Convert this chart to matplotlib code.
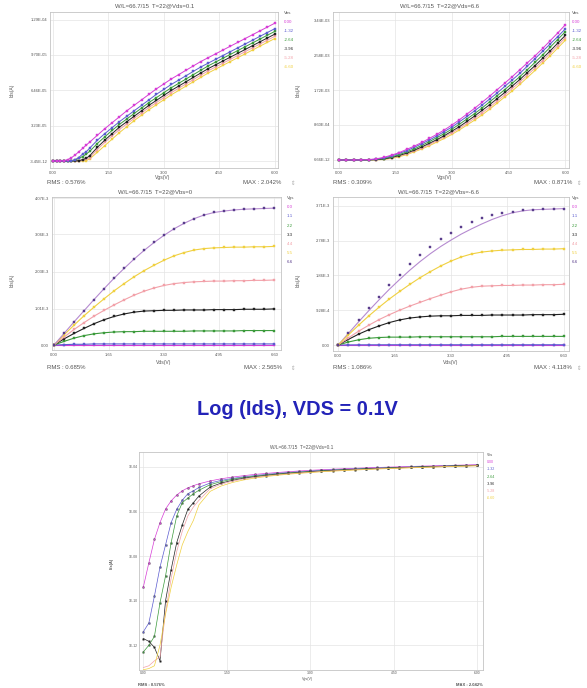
import matplotlib.pyplot as plt
from matplotlib.ticker import NullLocator

plt.rcParams["font.family"] = ["Liberation Sans", "DejaVu Sans"]

W, H = 587, 688

# ---- Ids-Vgs @ Vds=0.1 (linear panel + log panel share these) ----
vgs_a = [0.0, 0.1, 0.2, 0.3, 0.4, 0.5, 0.6, 0.7, 0.8, 0.9, 1.0,
         1.2, 1.4, 1.6, 1.8, 2.0, 2.2, 2.4, 2.6, 2.8, 3.0, 3.2, 3.4,
         3.6, 3.8, 4.0, 4.2, 4.4, 4.6, 4.8, 5.0, 5.2, 5.4, 5.6, 5.8, 6.0]
vbs_labels = ["0.00", "-1.32", "-2.64", "-3.96", "-5.28", "-6.60"]
lin_vbs0 = [4.0e-10, 5.0e-9, 5.6e-8, 3.2e-7, 1.3e-6, 3.0e-6, 5.5e-6, 8.5e-6, 1.15e-5, 1.45e-5, 1.75e-5,
            2.35e-5, 2.95e-5, 3.5e-5, 4.05e-5, 4.6e-5, 5.1e-5, 5.6e-5, 6.1e-5, 6.6e-5, 7.05e-5, 7.5e-5, 7.9e-5,
            8.3e-5, 8.7e-5, 9.1e-5, 9.45e-5, 9.8e-5, 1.015e-4, 1.05e-4, 1.085e-4, 1.12e-4, 1.155e-4, 1.19e-4, 1.225e-4, 1.26e-4]
lin_vbs1 = [4e-12, 1e-11, 1.6e-10, 3.2e-9, 3.2e-8, 3.2e-7, 1.26e-6, 3.2e-6, 6.3e-6, 8.5e-6, 1.2e-5,
            1.9e-5, 2.5e-5, 3.05e-5, 3.6e-5, 4.1e-5, 4.6e-5, 5.1e-5, 5.6e-5, 6.1e-5, 6.55e-5, 7.0e-5, 7.4e-5,
            7.8e-5, 8.2e-5, 8.6e-5, 8.95e-5, 9.3e-5, 9.65e-5, 1.0e-4, 1.035e-4, 1.07e-4, 1.105e-4, 1.14e-4, 1.175e-4, 1.21e-4]
lin_vbs2 = [5e-13, 1e-12, 2.5e-12, 8e-11, 1.3e-9, 4e-8, 6.3e-7, 2.5e-6, 4.0e-6, 6.3e-6, 9.0e-6,
            1.6e-5, 2.2e-5, 2.8e-5, 3.35e-5, 3.85e-5, 4.35e-5, 4.85e-5, 5.35e-5, 5.8e-5, 6.25e-5, 6.7e-5, 7.1e-5,
            7.5e-5, 7.9e-5, 8.3e-5, 8.7e-5, 9.05e-5, 9.4e-5, 9.75e-5, 1.01e-4, 1.045e-4, 1.08e-4, 1.115e-4, 1.15e-4, 1.185e-4]
lin_vbs3 = [2e-12, 1.5e-12, 8e-13, 2e-13, 1e-10, 2.5e-9, 4e-8, 2.5e-7, 1.26e-6, 2.5e-6, 5.0e-6,
            1.25e-5, 1.9e-5, 2.5e-5, 3.1e-5, 3.6e-5, 4.1e-5, 4.6e-5, 5.1e-5, 5.55e-5, 6.0e-5, 6.45e-5, 6.85e-5,
            7.25e-5, 7.65e-5, 8.05e-5, 8.45e-5, 8.8e-5, 9.15e-5, 9.5e-5, 9.85e-5, 1.02e-4, 1.055e-4, 1.09e-4, 1.125e-4, 1.16e-4]
lin_vbs4 = [1e-13, 1.2e-13, 2e-13, 3e-13, 3e-11, 1e-9, 1.6e-8, 1.3e-7, 6.3e-7, 1.6e-6, 3.2e-6,
            1.05e-5, 1.7e-5, 2.3e-5, 2.88e-5, 3.4e-5, 3.9e-5, 4.4e-5, 4.9e-5, 5.35e-5, 5.8e-5, 6.25e-5, 6.65e-5,
            7.05e-5, 7.45e-5, 7.85e-5, 8.25e-5, 8.6e-5, 8.95e-5, 9.3e-5, 9.65e-5, 1.0e-4, 1.035e-4, 1.07e-4, 1.105e-4, 1.14e-4]
lin_vbs5 = [8e-14, 9e-14, 1.2e-13, 1e-12, 2.5e-11, 4e-10, 4e-9, 3.2e-8, 1.26e-7, 4e-7, 2.0e-6,
            8.0e-6, 1.4e-5, 2.0e-5, 2.6e-5, 3.15e-5, 3.7e-5, 4.2e-5, 4.7e-5, 5.15e-5, 5.6e-5, 6.05e-5, 6.45e-5,
            6.85e-5, 7.25e-5, 7.65e-5, 8.05e-5, 8.4e-5, 8.75e-5, 9.1e-5, 9.45e-5, 9.8e-5, 1.015e-4, 1.05e-4, 1.085e-4, 1.12e-4]

# ---- Ids-Vgs @ Vds=6.6 (mA) ----
vgs_b = [0.0, 0.2, 0.4, 0.6, 0.8, 1.0, 1.2, 1.4, 1.6, 1.8, 2.0, 2.2, 2.4, 2.6, 2.8, 3.0,
         3.2, 3.4, 3.6, 3.8, 4.0, 4.2, 4.4, 4.6, 4.8, 5.0, 5.2, 5.4, 5.6, 5.8, 6.0]
sat_vbs0 = [0.0, 0.0, 0.0003, 0.002, 0.010, 0.030, 0.065, 0.12, 0.18, 0.26, 0.34, 0.43, 0.53, 0.63, 0.74, 0.86,
            0.99, 1.13, 1.27, 1.42, 1.57, 1.73, 1.89, 2.05, 2.22, 2.39, 2.56, 2.74, 2.93, 3.12, 3.32]
sat_vbs1 = [0.0, 0.0, 0.0001, 0.001, 0.006, 0.020, 0.050, 0.10, 0.16, 0.23, 0.31, 0.40, 0.49, 0.59, 0.70, 0.81,
            0.94, 1.07, 1.21, 1.35, 1.50, 1.65, 1.81, 1.97, 2.13, 2.31, 2.49, 2.67, 2.85, 3.03, 3.22]
sat_vbs2 = [0.0, 0.0, 0.0, 0.0005, 0.003, 0.012, 0.035, 0.075, 0.13, 0.20, 0.27, 0.36, 0.45, 0.55, 0.65, 0.76,
            0.88, 1.01, 1.14, 1.28, 1.43, 1.58, 1.73, 1.89, 2.05, 2.22, 2.40, 2.58, 2.77, 2.96, 3.15]
sat_vbs3 = [0.0, 0.0, 0.0, 0.0003, 0.002, 0.008, 0.025, 0.06, 0.11, 0.17, 0.24, 0.32, 0.41, 0.50, 0.60, 0.71,
            0.82, 0.95, 1.08, 1.22, 1.36, 1.51, 1.66, 1.82, 1.98, 2.15, 2.32, 2.50, 2.68, 2.87, 3.06]
sat_vbs4 = [0.0, 0.0, 0.0, 0.0002, 0.001, 0.005, 0.018, 0.048, 0.095, 0.15, 0.22, 0.29, 0.38, 0.47, 0.57, 0.67,
            0.78, 0.90, 1.03, 1.16, 1.30, 1.45, 1.60, 1.76, 1.92, 2.09, 2.26, 2.44, 2.62, 2.81, 3.00]
sat_vbs5 = [0.0, 0.0, 0.0, 0.0001, 0.0005, 0.003, 0.012, 0.038, 0.08, 0.13, 0.20, 0.27, 0.35, 0.44, 0.53, 0.63,
            0.74, 0.86, 0.98, 1.11, 1.25, 1.40, 1.55, 1.70, 1.86, 2.03, 2.20, 2.38, 2.56, 2.75, 2.94]

# ---- Ids-Vds (mA), Vbs=0 and Vbs=-6.6 ----
vds = [0.0, 0.3, 0.6, 0.9, 1.2, 1.5, 1.8, 2.1, 2.4, 2.7, 3.0, 3.3,
       3.6, 3.9, 4.2, 4.5, 4.8, 5.1, 5.4, 5.7, 6.0, 6.3, 6.6]
vgs_labels = ["0.0", "1.1", "2.2", "3.3", "4.4", "5.5", "6.6"]
out0_vgs00 = [0.0, 0.0, 0.0, 0.0, 0.0, 0.0, 0.0, 0.0, 0.0, 0.0, 0.0, 0.0,
              0.0, 0.0, 0.0, 0.0, 0.0, 0.0, 0.0, 0.0, 0.0, 0.0, 0.0]
out0_vgs11 = [0.0, 0.01, 0.02, 0.02, 0.03, 0.03, 0.03, 0.03, 0.03, 0.03, 0.03, 0.03,
              0.03, 0.03, 0.03, 0.03, 0.03, 0.03, 0.03, 0.03, 0.03, 0.03, 0.03]
out0_vgs22 = [0.0, 0.10, 0.19, 0.26, 0.31, 0.34, 0.36, 0.37, 0.37, 0.38, 0.38, 0.38,
              0.38, 0.38, 0.39, 0.39, 0.39, 0.39, 0.39, 0.40, 0.40, 0.40, 0.40]
out0_vgs33 = [0.0, 0.17, 0.32, 0.46, 0.59, 0.70, 0.79, 0.86, 0.91, 0.94, 0.95, 0.96,
              0.96, 0.97, 0.97, 0.97, 0.98, 0.98, 0.98, 0.99, 0.99, 0.99, 1.00]
out0_vgs44 = [0.0, 0.22, 0.43, 0.62, 0.80, 0.96, 1.11, 1.25, 1.38, 1.49, 1.58, 1.65,
              1.70, 1.73, 1.75, 1.76, 1.77, 1.77, 1.78, 1.78, 1.79, 1.79, 1.80]
out0_vgs55 = [0.0, 0.28, 0.55, 0.81, 1.05, 1.28, 1.50, 1.70, 1.89, 2.06, 2.21, 2.35,
              2.47, 2.56, 2.63, 2.67, 2.69, 2.70, 2.71, 2.71, 2.72, 2.72, 2.73]
out0_vgs66 = [0.0, 0.32, 0.64, 0.95, 1.26, 1.56, 1.85, 2.12, 2.38, 2.62, 2.84, 3.04,
              3.22, 3.37, 3.50, 3.60, 3.67, 3.71, 3.74, 3.76, 3.77, 3.78, 3.79]
out6_vgs00 = [0.0, 0.0, 0.0, 0.0, 0.0, 0.0, 0.0, 0.0, 0.0, 0.0, 0.0, 0.0,
              0.0, 0.0, 0.0, 0.0, 0.0, 0.0, 0.0, 0.0, 0.0, 0.0, 0.0]
out6_vgs11 = [0.0, 0.003, 0.005, 0.006, 0.006, 0.007, 0.007, 0.007, 0.007, 0.007, 0.007, 0.007,
              0.007, 0.007, 0.007, 0.007, 0.007, 0.007, 0.007, 0.007, 0.007, 0.007, 0.007]
out6_vgs22 = [0.0, 0.08, 0.14, 0.18, 0.20, 0.21, 0.21, 0.21, 0.22, 0.22, 0.22, 0.22,
              0.22, 0.22, 0.22, 0.22, 0.23, 0.23, 0.23, 0.23, 0.23, 0.23, 0.23]
out6_vgs33 = [0.0, 0.15, 0.29, 0.41, 0.51, 0.60, 0.67, 0.72, 0.75, 0.77, 0.78, 0.78,
              0.79, 0.79, 0.79, 0.80, 0.80, 0.80, 0.80, 0.81, 0.81, 0.81, 0.82]
out6_vgs44 = [0.0, 0.19, 0.37, 0.53, 0.68, 0.81, 0.93, 1.04, 1.14, 1.24, 1.33, 1.42,
              1.49, 1.54, 1.57, 1.58, 1.59, 1.59, 1.60, 1.60, 1.61, 1.61, 1.62]
out6_vgs55 = [0.0, 0.27, 0.53, 0.78, 1.01, 1.23, 1.43, 1.62, 1.80, 1.96, 2.11, 2.24,
              2.35, 2.43, 2.48, 2.51, 2.53, 2.54, 2.55, 2.55, 2.56, 2.56, 2.57]
out6_vgs66 = [0.0, 0.33, 0.66, 0.98, 1.29, 1.60, 1.88, 2.15, 2.40, 2.62, 2.82, 2.99,
              3.14, 3.27, 3.38, 3.46, 3.52, 3.56, 3.59, 3.61, 3.62, 3.63, 3.64]
out6_vgs66_model = [0.0, 0.31, 0.62, 0.92, 1.21, 1.49, 1.75, 2.00, 2.23, 2.44, 2.63, 2.80,
                    2.96, 3.10, 3.23, 3.35, 3.45, 3.53, 3.58, 3.61, 3.62, 3.63, 3.64]

TXT = "#555555"
GRID = "#e4e4e4"
EDGE = "#c4c4c4"
VBS_COL = ["#d63cd6", "#5b5bd0", "#3a9a3a", "#222222", "#f2a0a8", "#f0d040"]
VGS_COL = ["#d63cd6", "#5b5bd0", "#3a9a3a", "#222222", "#f2a0a8", "#f0d040", "#5a3d8c"]
PUR_LINE = "#b58ad0"
MS = 1.9

fig = plt.figure(figsize=(W / 100, H / 100), dpi=100)


def box(x0, y0, x1, y1):
    return [x0 / W, 1 - y1 / H, (x1 - x0) / W, (y1 - y0) / H]


def put(x, y, s, **kw):
    kw.setdefault("va", "center")
    kw.setdefault("color", TXT)
    fig.text(x / W, 1 - y / H, s, **kw)


def style(ax, xlim, ylim, xt, xtl, yt, ytl, fs=3.0, pad=2):
    ax.set_xlim(*xlim)
    ax.set_ylim(*ylim)
    ax.set_xticks(xt, xtl)
    ax.set_yticks(yt, ytl)
    ax.tick_params(length=0, pad=pad, labelsize=fs, labelcolor=TXT)
    ax.grid(True, color=GRID, lw=0.5)
    ax.set_axisbelow(True)
    for s in ax.spines.values():
        s.set_color(EDGE)
        s.set_linewidth(0.6)


def legend(x, y, head, labels, colors, dy, fs=3.2):
    put(x, y, head, fontsize=fs, ha="left")
    for i, (lab, c) in enumerate(zip(labels, colors)):
        put(x, y + dy * (i + 1), lab, fontsize=fs, ha="left", color=c)


def footer(x0, x1, y, rms, mx, fs=4.3, **kw):
    put(x0, y, f"RMS : {rms}", fontsize=fs, ha="left", **kw)
    put(x1, y, f"MAX : {mx}", fontsize=fs, ha="right", **kw)


lin_sets = [lin_vbs0, lin_vbs1, lin_vbs2, lin_vbs3, lin_vbs4, lin_vbs5]
sat_sets = [sat_vbs0, sat_vbs1, sat_vbs2, sat_vbs3, sat_vbs4, sat_vbs5]
out0_sets = [out0_vgs00, out0_vgs11, out0_vgs22, out0_vgs33, out0_vgs44, out0_vgs55, out0_vgs66]
out6_sets = [out6_vgs00, out6_vgs11, out6_vgs22, out6_vgs33, out6_vgs44, out6_vgs55, out6_vgs66]

# panel 1: linear Ids-Vgs, Vds=0.1
ax1 = fig.add_axes(box(50, 12, 278, 168))
for ids, c in reversed(list(zip(lin_sets, VBS_COL))):
    ax1.plot(vgs_a, ids, color=c, lw=0.7, marker="s", ms=MS, mfc=c, mec=c, mew=0.3)
style(ax1, (-0.08, 6.09), (-6.4e-6, 1.363e-4),
      [0, 1.5, 3.0, 4.5, 6.0], ["0.00", "1.50", "3.00", "4.50", "6.00"],
      [-3.45e-12, 3.23e-5, 6.46e-5, 9.70e-5, 1.29e-4],
      ["-3.45E-12", "3.23E-05", "6.46E-05", "9.70E-05", "1.29E-04"])

# panel 2: Ids-Vgs, Vds=6.6
ax2 = fig.add_axes(box(333, 12, 569, 168))
for ids, c in reversed(list(zip(sat_sets, VBS_COL))):
    ax2.plot(vgs_b, [v * 1e-3 for v in ids], color=c, lw=0.7, marker="s", ms=MS, mfc=c, mec=c, mew=0.3)
style(ax2, (-0.15, 6.1), (-1.97e-4, 3.637e-3),
      [0, 1.5, 3.0, 4.5, 6.0], ["0.00", "1.50", "3.00", "4.50", "6.00"],
      [6.66e-12, 8.60e-4, 1.72e-3, 2.58e-3, 3.44e-3],
      ["6.66E-12", "8.60E-04", "1.72E-03", "2.58E-03", "3.44E-03"])

# panel 3: Ids-Vds, Vbs=0
ax3 = fig.add_axes(box(52, 197, 281, 350))
for ids, c in zip(out0_sets, VGS_COL):
    lc = PUR_LINE if c == VGS_COL[-1] else c
    ax3.plot(vds, [v * 1e-3 for v in ids], color=lc, lw=0.8, marker="s", ms=MS, mfc=c, mec=c, mew=0.3)
style(ax3, (-0.06, 6.8), (-1.38e-4, 4.098e-3),
      [0, 1.65, 3.3, 4.95, 6.6], ["0.00", "1.65", "3.30", "4.95", "6.60"],
      [0, 1.01e-3, 2.03e-3, 3.06e-3, 4.07e-3],
      ["0.00", "1.01E-3", "2.03E-3", "3.06E-3", "4.07E-3"])

# panel 4: Ids-Vds, Vbs=-6.6
ax4 = fig.add_axes(box(333, 197, 569, 351))
ax4.plot(vds, [v * 1e-3 for v in out6_vgs66_model], color=PUR_LINE, lw=0.8)
for ids, c in zip(out6_sets, VGS_COL):
    if c == VGS_COL[-1]:
        ax4.plot(vds, [v * 1e-3 for v in ids], ls="none", marker="s", ms=MS, mfc=c, mec=c, mew=0.3)
    else:
        ax4.plot(vds, [v * 1e-3 for v in ids], color=c, lw=0.8, marker="s", ms=MS, mfc=c, mec=c, mew=0.3)
style(ax4, (-0.15, 6.75), (-1.6e-4, 3.95e-3),
      [0, 1.65, 3.3, 4.95, 6.6], ["0.00", "1.65", "3.30", "4.95", "6.60"],
      [0, 9.28e-4, 1.86e-3, 2.78e-3, 3.71e-3],
      ["0.00", "9.28E-4", "1.86E-3", "2.78E-3", "3.71E-3"])

# panel 5: log Ids-Vgs, Vds=0.1
ax5 = fig.add_axes(box(139, 452, 483, 670))
ax5.set_yscale("log")
for i, (ids, c) in enumerate(zip(lin_sets, VBS_COL)):
    ax5.plot(vgs_a, ids, color=c, lw=0.5)
    if i < 4:
        ax5.plot(vgs_a, ids, ls="none", marker="s", ms=1.1, mfc=c, mec="#444444", mew=0.3)
style(ax5, (-0.077, 6.1), (10 ** -13.11, 10 ** -3.33),
      [0, 1.5, 3.0, 4.5, 6.0], ["0.00", "1.50", "3.00", "4.50", "6.00"],
      [1e-12, 1e-10, 1e-8, 1e-6, 1e-4],
      ["1E-12", "1E-10", "1E-08", "1E-06", "1E-04"], fs=2.4, pad=1)
ax5.yaxis.set_minor_locator(NullLocator())

# titles, axis labels, legends, footers
put(155, 6, "W/L=66.7/15  T=22@Vds=0.1", fontsize=4.3, ha="center")
put(440, 6, "W/L=66.7/15  T=22@Vds=6.6", fontsize=4.3, ha="center")
put(155, 192, "W/L=66.7/15  T=22@Vbs=0", fontsize=4.3, ha="center")
put(438, 192, "W/L=66.7/15  T=22@Vbs=-6.6", fontsize=4.3, ha="center")
put(302, 447, "W/L=66.7/15  T=22@Vds=0.1", fontsize=3.4, ha="center")

put(163, 178, "Vgs(V)", fontsize=3.6, ha="center")
put(445, 178, "Vgs(V)", fontsize=3.6, ha="center")
put(164, 362, "Vds(V)", fontsize=3.6, ha="center")
put(451, 362, "Vds(V)", fontsize=3.6, ha="center")
put(307, 679, "Vgs(V)", fontsize=2.6, ha="center")

for x, y in [(12, 90), (298, 90), (12, 280), (298, 280)]:
    put(x, y, "Ids(A)", fontsize=3.6, ha="center", rotation=90)
put(112, 563, "Ids(A)", fontsize=2.8, ha="center", rotation=90, fontweight="bold")

legend(284, 13, "Vbs", vbs_labels, VBS_COL, 9)
legend(572, 13, "Vbs", vbs_labels, VBS_COL, 9)
legend(287, 198, "Vgs", vgs_labels, VGS_COL, 9.2)
legend(572, 198, "Vgs", vgs_labels, VGS_COL, 9.2)
legend(487, 455, "Vbs", vbs_labels, VBS_COL, 7.2, fs=2.6)

footer(47, 281, 183, "0.576%", "2.042%")
footer(333, 572, 183, "0.309%", "0.871%")
footer(47, 282, 368, "0.685%", "2.565%")
footer(333, 572, 368, "1.086%", "4.118%")
footer(138, 483, 685, "0.576%", "2.042%", fs=3.0, fontweight="bold")

for x, y in [(293, 183), (293, 368), (579, 183), (579, 368)]:
    put(x, y, "⇕", fontsize=4, ha="center", color="#aaaaaa")

put(297, 410, "Log (Ids), VDS = 0.1V", fontsize=14.4, ha="center",
    fontweight="bold", color="#2323b8")

fig.savefig("out.png", dpi=100, facecolor="white")
